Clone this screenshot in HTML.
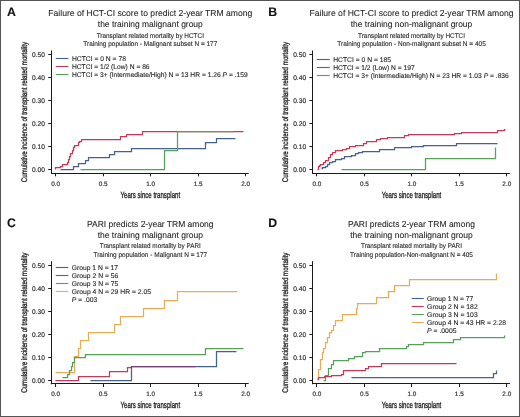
<!DOCTYPE html>
<html><head><meta charset="utf-8"><style>
html,body{margin:0;padding:0;background:#fff;}
body{width:520px;height:417px;overflow:hidden;font-family:"Liberation Sans", sans-serif;}
svg{display:block;filter:blur(0.3px);} text{text-rendering:geometricPrecision;}
</style></head><body>
<svg width="520" height="417" viewBox="0 0 520 417" font-family='"Liberation Sans", sans-serif'>
<rect x="0" y="0" width="520" height="417" fill="#fff"/>
<text x="7.00" y="15.90" font-size="12.3" font-weight="bold" fill="#111" stroke="#111" stroke-width="0.1">A</text>
<text x="150.30" y="16.20" font-size="8.7" text-anchor="middle" textLength="204" lengthAdjust="spacingAndGlyphs" fill="#1f1f1f" stroke="#1f1f1f" stroke-width="0.08">Failure of HCT-CI score to predict 2-year TRM among</text>
<text x="150.30" y="26.80" font-size="8.7" text-anchor="middle" textLength="105" lengthAdjust="spacingAndGlyphs" fill="#1f1f1f" stroke="#1f1f1f" stroke-width="0.08">the training malignant group</text>
<text x="150.30" y="37.70" font-size="6.8" text-anchor="middle" textLength="107.3" lengthAdjust="spacingAndGlyphs" fill="#262626" stroke="#262626" stroke-width="0.1">Transplant related mortality by HCTCI</text>
<text x="150.30" y="45.80" font-size="6.8" text-anchor="middle" textLength="133.9" lengthAdjust="spacingAndGlyphs" fill="#262626" stroke="#262626" stroke-width="0.1">Training population - Malignant subset N = 177</text>
<line x1="51.50" y1="50.50" x2="51.50" y2="173.60" stroke="#1a1a1a" stroke-width="1"/>
<line x1="50.90" y1="173.50" x2="248.70" y2="173.50" stroke="#1a1a1a" stroke-width="1"/>
<line x1="48.20" y1="169.50" x2="51.40" y2="169.50" stroke="#1a1a1a" stroke-width="1"/>
<text x="44.90" y="171.80" font-size="6.7" text-anchor="end" textLength="12.9" lengthAdjust="spacingAndGlyphs" fill="#2e2e2e" stroke="#2e2e2e" stroke-width="0.18">0.00</text>
<line x1="48.20" y1="146.50" x2="51.40" y2="146.50" stroke="#1a1a1a" stroke-width="1"/>
<text x="44.90" y="148.84" font-size="6.7" text-anchor="end" textLength="12.9" lengthAdjust="spacingAndGlyphs" fill="#2e2e2e" stroke="#2e2e2e" stroke-width="0.18">0.10</text>
<line x1="48.20" y1="123.50" x2="51.40" y2="123.50" stroke="#1a1a1a" stroke-width="1"/>
<text x="44.90" y="125.88" font-size="6.7" text-anchor="end" textLength="12.9" lengthAdjust="spacingAndGlyphs" fill="#2e2e2e" stroke="#2e2e2e" stroke-width="0.18">0.20</text>
<line x1="48.20" y1="100.50" x2="51.40" y2="100.50" stroke="#1a1a1a" stroke-width="1"/>
<text x="44.90" y="102.92" font-size="6.7" text-anchor="end" textLength="12.9" lengthAdjust="spacingAndGlyphs" fill="#2e2e2e" stroke="#2e2e2e" stroke-width="0.18">0.30</text>
<line x1="48.20" y1="77.50" x2="51.40" y2="77.50" stroke="#1a1a1a" stroke-width="1"/>
<text x="44.90" y="79.96" font-size="6.7" text-anchor="end" textLength="12.9" lengthAdjust="spacingAndGlyphs" fill="#2e2e2e" stroke="#2e2e2e" stroke-width="0.18">0.40</text>
<line x1="48.20" y1="54.50" x2="51.40" y2="54.50" stroke="#1a1a1a" stroke-width="1"/>
<text x="44.90" y="57.00" font-size="6.7" text-anchor="end" textLength="12.9" lengthAdjust="spacingAndGlyphs" fill="#2e2e2e" stroke="#2e2e2e" stroke-width="0.18">0.50</text>
<line x1="55.50" y1="173.10" x2="55.50" y2="176.30" stroke="#1a1a1a" stroke-width="1"/>
<text x="55.70" y="185.60" font-size="6.3" text-anchor="middle" textLength="8.9" lengthAdjust="spacingAndGlyphs" fill="#333" stroke="#333" stroke-width="0.18">0.0</text>
<line x1="103.50" y1="173.10" x2="103.50" y2="176.30" stroke="#1a1a1a" stroke-width="1"/>
<text x="103.18" y="185.60" font-size="6.3" text-anchor="middle" textLength="8.9" lengthAdjust="spacingAndGlyphs" fill="#333" stroke="#333" stroke-width="0.18">0.5</text>
<line x1="150.50" y1="173.10" x2="150.50" y2="176.30" stroke="#1a1a1a" stroke-width="1"/>
<text x="150.65" y="185.60" font-size="6.3" text-anchor="middle" textLength="8.9" lengthAdjust="spacingAndGlyphs" fill="#333" stroke="#333" stroke-width="0.18">1.0</text>
<line x1="198.50" y1="173.10" x2="198.50" y2="176.30" stroke="#1a1a1a" stroke-width="1"/>
<text x="198.12" y="185.60" font-size="6.3" text-anchor="middle" textLength="8.9" lengthAdjust="spacingAndGlyphs" fill="#333" stroke="#333" stroke-width="0.18">1.5</text>
<line x1="245.50" y1="173.10" x2="245.50" y2="176.30" stroke="#1a1a1a" stroke-width="1"/>
<text x="245.60" y="185.60" font-size="6.3" text-anchor="middle" textLength="8.9" lengthAdjust="spacingAndGlyphs" fill="#333" stroke="#333" stroke-width="0.18">2.0</text>
<text x="150.30" y="197.50" font-size="9.0" text-anchor="middle" textLength="59.6" lengthAdjust="spacingAndGlyphs" fill="#1a1a1a" stroke="#1a1a1a" stroke-width="0.3">Years since transplant</text>
<text x="0" y="0" font-size="8.2" text-anchor="middle" textLength="140.3" lengthAdjust="spacingAndGlyphs" fill="#1a1a1a" stroke="#1a1a1a" stroke-width="0.3" transform="translate(26.50,112.00) rotate(-90)">Cumulative incidence of transplant related mortality</text>
<line x1="55.80" y1="58.50" x2="68.40" y2="58.50" stroke="#46618a" stroke-width="1.1"/>
<text x="71.90" y="60.90" font-size="6.75" textLength="54.0" lengthAdjust="spacingAndGlyphs" fill="#222" stroke="#222" stroke-width="0.1">HCTCI = 0 N = 78</text>
<line x1="55.80" y1="66.50" x2="68.40" y2="66.50" stroke="#c23a5a" stroke-width="1.1"/>
<text x="71.90" y="69.00" font-size="6.75" textLength="77.7" lengthAdjust="spacingAndGlyphs" fill="#222" stroke="#222" stroke-width="0.1">HCTCI = 1/2 (Low) N = 86</text>
<line x1="55.80" y1="74.50" x2="68.40" y2="74.50" stroke="#58a05a" stroke-width="1.1"/>
<text x="71.90" y="77.10" font-size="6.75" textLength="175.8" lengthAdjust="spacingAndGlyphs" fill="#222" stroke="#222" stroke-width="0.1">HCTCI = 3+ (Intermediate/High) N = 13 HR = 1.26 <tspan font-style="italic">P</tspan> = .159</text>
<text x="268.20" y="15.90" font-size="12.3" font-weight="bold" fill="#111" stroke="#111" stroke-width="0.1">B</text>
<text x="411.50" y="16.20" font-size="8.7" text-anchor="middle" textLength="204" lengthAdjust="spacingAndGlyphs" fill="#1f1f1f" stroke="#1f1f1f" stroke-width="0.08">Failure of HCT-CI score to predict 2-year TRM among</text>
<text x="411.50" y="26.80" font-size="8.7" text-anchor="middle" textLength="121.5" lengthAdjust="spacingAndGlyphs" fill="#1f1f1f" stroke="#1f1f1f" stroke-width="0.08">the training non-malignant group</text>
<text x="411.50" y="37.70" font-size="6.8" text-anchor="middle" textLength="106.9" lengthAdjust="spacingAndGlyphs" fill="#262626" stroke="#262626" stroke-width="0.1">Transplant related mortality by HCTCI</text>
<text x="411.50" y="45.80" font-size="6.8" text-anchor="middle" textLength="148.5" lengthAdjust="spacingAndGlyphs" fill="#262626" stroke="#262626" stroke-width="0.1">Training population - Non-malignant subset N = 405</text>
<line x1="312.50" y1="50.50" x2="312.50" y2="173.60" stroke="#1a1a1a" stroke-width="1"/>
<line x1="312.10" y1="173.50" x2="509.90" y2="173.50" stroke="#1a1a1a" stroke-width="1"/>
<line x1="309.40" y1="169.50" x2="312.60" y2="169.50" stroke="#1a1a1a" stroke-width="1"/>
<text x="306.10" y="171.80" font-size="6.7" text-anchor="end" textLength="12.9" lengthAdjust="spacingAndGlyphs" fill="#2e2e2e" stroke="#2e2e2e" stroke-width="0.18">0.00</text>
<line x1="309.40" y1="146.50" x2="312.60" y2="146.50" stroke="#1a1a1a" stroke-width="1"/>
<text x="306.10" y="148.84" font-size="6.7" text-anchor="end" textLength="12.9" lengthAdjust="spacingAndGlyphs" fill="#2e2e2e" stroke="#2e2e2e" stroke-width="0.18">0.10</text>
<line x1="309.40" y1="123.50" x2="312.60" y2="123.50" stroke="#1a1a1a" stroke-width="1"/>
<text x="306.10" y="125.88" font-size="6.7" text-anchor="end" textLength="12.9" lengthAdjust="spacingAndGlyphs" fill="#2e2e2e" stroke="#2e2e2e" stroke-width="0.18">0.20</text>
<line x1="309.40" y1="100.50" x2="312.60" y2="100.50" stroke="#1a1a1a" stroke-width="1"/>
<text x="306.10" y="102.92" font-size="6.7" text-anchor="end" textLength="12.9" lengthAdjust="spacingAndGlyphs" fill="#2e2e2e" stroke="#2e2e2e" stroke-width="0.18">0.30</text>
<line x1="309.40" y1="77.50" x2="312.60" y2="77.50" stroke="#1a1a1a" stroke-width="1"/>
<text x="306.10" y="79.96" font-size="6.7" text-anchor="end" textLength="12.9" lengthAdjust="spacingAndGlyphs" fill="#2e2e2e" stroke="#2e2e2e" stroke-width="0.18">0.40</text>
<line x1="309.40" y1="54.50" x2="312.60" y2="54.50" stroke="#1a1a1a" stroke-width="1"/>
<text x="306.10" y="57.00" font-size="6.7" text-anchor="end" textLength="12.9" lengthAdjust="spacingAndGlyphs" fill="#2e2e2e" stroke="#2e2e2e" stroke-width="0.18">0.50</text>
<line x1="316.50" y1="173.10" x2="316.50" y2="176.30" stroke="#1a1a1a" stroke-width="1"/>
<text x="316.90" y="185.60" font-size="6.3" text-anchor="middle" textLength="8.9" lengthAdjust="spacingAndGlyphs" fill="#333" stroke="#333" stroke-width="0.18">0.0</text>
<line x1="364.50" y1="173.10" x2="364.50" y2="176.30" stroke="#1a1a1a" stroke-width="1"/>
<text x="364.38" y="185.60" font-size="6.3" text-anchor="middle" textLength="8.9" lengthAdjust="spacingAndGlyphs" fill="#333" stroke="#333" stroke-width="0.18">0.5</text>
<line x1="411.50" y1="173.10" x2="411.50" y2="176.30" stroke="#1a1a1a" stroke-width="1"/>
<text x="411.85" y="185.60" font-size="6.3" text-anchor="middle" textLength="8.9" lengthAdjust="spacingAndGlyphs" fill="#333" stroke="#333" stroke-width="0.18">1.0</text>
<line x1="459.50" y1="173.10" x2="459.50" y2="176.30" stroke="#1a1a1a" stroke-width="1"/>
<text x="459.32" y="185.60" font-size="6.3" text-anchor="middle" textLength="8.9" lengthAdjust="spacingAndGlyphs" fill="#333" stroke="#333" stroke-width="0.18">1.5</text>
<line x1="506.50" y1="173.10" x2="506.50" y2="176.30" stroke="#1a1a1a" stroke-width="1"/>
<text x="506.80" y="185.60" font-size="6.3" text-anchor="middle" textLength="8.9" lengthAdjust="spacingAndGlyphs" fill="#333" stroke="#333" stroke-width="0.18">2.0</text>
<text x="411.50" y="197.50" font-size="9.0" text-anchor="middle" textLength="59.6" lengthAdjust="spacingAndGlyphs" fill="#1a1a1a" stroke="#1a1a1a" stroke-width="0.3">Years since transplant</text>
<text x="0" y="0" font-size="8.2" text-anchor="middle" textLength="140.3" lengthAdjust="spacingAndGlyphs" fill="#1a1a1a" stroke="#1a1a1a" stroke-width="0.3" transform="translate(287.70,112.00) rotate(-90)">Cumulative incidence of transplant related mortality</text>
<line x1="316.80" y1="59.50" x2="329.80" y2="59.50" stroke="#46618a" stroke-width="1.1"/>
<text x="333.20" y="61.50" font-size="6.75" textLength="57.8" lengthAdjust="spacingAndGlyphs" fill="#222" stroke="#222" stroke-width="0.1">HCTCI = 0 N = 185</text>
<line x1="316.80" y1="67.50" x2="329.80" y2="67.50" stroke="#c23a5a" stroke-width="1.1"/>
<text x="333.20" y="69.65" font-size="6.75" textLength="81.5" lengthAdjust="spacingAndGlyphs" fill="#222" stroke="#222" stroke-width="0.1">HCTCI = 1/2 (Low) N = 197</text>
<line x1="316.80" y1="75.50" x2="329.80" y2="75.50" stroke="#58a05a" stroke-width="1.1"/>
<text x="333.20" y="77.80" font-size="6.75" textLength="175.6" lengthAdjust="spacingAndGlyphs" fill="#222" stroke="#222" stroke-width="0.1">HCTCI = 3+ (Intermediate/High) N = 23 HR = 1.03 <tspan font-style="italic">P</tspan> = .836</text>
<text x="7.00" y="226.60" font-size="12.3" font-weight="bold" fill="#111" stroke="#111" stroke-width="0.1">C</text>
<text x="150.30" y="226.90" font-size="8.7" text-anchor="middle" textLength="126.5" lengthAdjust="spacingAndGlyphs" fill="#1f1f1f" stroke="#1f1f1f" stroke-width="0.08">PARI predicts 2-year TRM among</text>
<text x="150.30" y="237.50" font-size="8.7" text-anchor="middle" textLength="105.3" lengthAdjust="spacingAndGlyphs" fill="#1f1f1f" stroke="#1f1f1f" stroke-width="0.08">the training malignant group</text>
<text x="150.30" y="248.40" font-size="6.8" text-anchor="middle" textLength="101" lengthAdjust="spacingAndGlyphs" fill="#262626" stroke="#262626" stroke-width="0.1">Transplant related mortality by PARI</text>
<text x="150.30" y="256.50" font-size="6.8" text-anchor="middle" textLength="113.7" lengthAdjust="spacingAndGlyphs" fill="#262626" stroke="#262626" stroke-width="0.1">Training population - Malignant N = 177</text>
<line x1="51.50" y1="261.20" x2="51.50" y2="384.30" stroke="#1a1a1a" stroke-width="1"/>
<line x1="50.90" y1="383.50" x2="248.70" y2="383.50" stroke="#1a1a1a" stroke-width="1"/>
<line x1="48.20" y1="380.50" x2="51.40" y2="380.50" stroke="#1a1a1a" stroke-width="1"/>
<text x="44.90" y="382.50" font-size="6.7" text-anchor="end" textLength="12.9" lengthAdjust="spacingAndGlyphs" fill="#2e2e2e" stroke="#2e2e2e" stroke-width="0.18">0.00</text>
<line x1="48.20" y1="357.50" x2="51.40" y2="357.50" stroke="#1a1a1a" stroke-width="1"/>
<text x="44.90" y="359.54" font-size="6.7" text-anchor="end" textLength="12.9" lengthAdjust="spacingAndGlyphs" fill="#2e2e2e" stroke="#2e2e2e" stroke-width="0.18">0.10</text>
<line x1="48.20" y1="334.50" x2="51.40" y2="334.50" stroke="#1a1a1a" stroke-width="1"/>
<text x="44.90" y="336.58" font-size="6.7" text-anchor="end" textLength="12.9" lengthAdjust="spacingAndGlyphs" fill="#2e2e2e" stroke="#2e2e2e" stroke-width="0.18">0.20</text>
<line x1="48.20" y1="311.50" x2="51.40" y2="311.50" stroke="#1a1a1a" stroke-width="1"/>
<text x="44.90" y="313.62" font-size="6.7" text-anchor="end" textLength="12.9" lengthAdjust="spacingAndGlyphs" fill="#2e2e2e" stroke="#2e2e2e" stroke-width="0.18">0.30</text>
<line x1="48.20" y1="288.50" x2="51.40" y2="288.50" stroke="#1a1a1a" stroke-width="1"/>
<text x="44.90" y="290.66" font-size="6.7" text-anchor="end" textLength="12.9" lengthAdjust="spacingAndGlyphs" fill="#2e2e2e" stroke="#2e2e2e" stroke-width="0.18">0.40</text>
<line x1="48.20" y1="265.50" x2="51.40" y2="265.50" stroke="#1a1a1a" stroke-width="1"/>
<text x="44.90" y="267.70" font-size="6.7" text-anchor="end" textLength="12.9" lengthAdjust="spacingAndGlyphs" fill="#2e2e2e" stroke="#2e2e2e" stroke-width="0.18">0.50</text>
<line x1="55.50" y1="383.80" x2="55.50" y2="387.00" stroke="#1a1a1a" stroke-width="1"/>
<text x="55.70" y="396.30" font-size="6.3" text-anchor="middle" textLength="8.9" lengthAdjust="spacingAndGlyphs" fill="#333" stroke="#333" stroke-width="0.18">0.0</text>
<line x1="103.50" y1="383.80" x2="103.50" y2="387.00" stroke="#1a1a1a" stroke-width="1"/>
<text x="103.18" y="396.30" font-size="6.3" text-anchor="middle" textLength="8.9" lengthAdjust="spacingAndGlyphs" fill="#333" stroke="#333" stroke-width="0.18">0.5</text>
<line x1="150.50" y1="383.80" x2="150.50" y2="387.00" stroke="#1a1a1a" stroke-width="1"/>
<text x="150.65" y="396.30" font-size="6.3" text-anchor="middle" textLength="8.9" lengthAdjust="spacingAndGlyphs" fill="#333" stroke="#333" stroke-width="0.18">1.0</text>
<line x1="198.50" y1="383.80" x2="198.50" y2="387.00" stroke="#1a1a1a" stroke-width="1"/>
<text x="198.12" y="396.30" font-size="6.3" text-anchor="middle" textLength="8.9" lengthAdjust="spacingAndGlyphs" fill="#333" stroke="#333" stroke-width="0.18">1.5</text>
<line x1="245.50" y1="383.80" x2="245.50" y2="387.00" stroke="#1a1a1a" stroke-width="1"/>
<text x="245.60" y="396.30" font-size="6.3" text-anchor="middle" textLength="8.9" lengthAdjust="spacingAndGlyphs" fill="#333" stroke="#333" stroke-width="0.18">2.0</text>
<text x="150.30" y="408.20" font-size="9.0" text-anchor="middle" textLength="59.6" lengthAdjust="spacingAndGlyphs" fill="#1a1a1a" stroke="#1a1a1a" stroke-width="0.3">Years since transplant</text>
<text x="0" y="0" font-size="8.2" text-anchor="middle" textLength="140.3" lengthAdjust="spacingAndGlyphs" fill="#1a1a1a" stroke="#1a1a1a" stroke-width="0.3" transform="translate(26.50,322.70) rotate(-90)">Cumulative incidence of transplant related mortality</text>
<line x1="55.80" y1="267.50" x2="68.30" y2="267.50" stroke="#46618a" stroke-width="1.1"/>
<text x="71.80" y="269.50" font-size="6.75" textLength="46.2" lengthAdjust="spacingAndGlyphs" fill="#222" stroke="#222" stroke-width="0.1">Group 1 N = 17</text>
<line x1="55.80" y1="275.50" x2="68.30" y2="275.50" stroke="#c23a5a" stroke-width="1.1"/>
<text x="71.80" y="277.52" font-size="6.75" textLength="46.5" lengthAdjust="spacingAndGlyphs" fill="#222" stroke="#222" stroke-width="0.1">Group 2 N = 56</text>
<line x1="55.80" y1="283.50" x2="68.30" y2="283.50" stroke="#58a05a" stroke-width="1.1"/>
<text x="71.80" y="285.54" font-size="6.75" textLength="46.5" lengthAdjust="spacingAndGlyphs" fill="#222" stroke="#222" stroke-width="0.1">Group 3 N = 75</text>
<line x1="55.80" y1="291.50" x2="68.30" y2="291.50" stroke="#e4ad5a" stroke-width="1.1"/>
<text x="71.80" y="293.56" font-size="6.75" textLength="79.2" lengthAdjust="spacingAndGlyphs" fill="#222" stroke="#222" stroke-width="0.1">Group 4 N = 29 HR = 2.05</text>
<text x="71.80" y="301.58" font-size="6.75" textLength="25.4" lengthAdjust="spacingAndGlyphs" fill="#222" stroke="#222" stroke-width="0.1"><tspan font-style="italic">P</tspan> = .003</text>
<text x="268.20" y="226.60" font-size="12.3" font-weight="bold" fill="#111" stroke="#111" stroke-width="0.1">D</text>
<text x="411.50" y="226.90" font-size="8.7" text-anchor="middle" textLength="126.8" lengthAdjust="spacingAndGlyphs" fill="#1f1f1f" stroke="#1f1f1f" stroke-width="0.08">PARI predicts 2-year TRM among</text>
<text x="411.50" y="237.50" font-size="8.7" text-anchor="middle" textLength="122.5" lengthAdjust="spacingAndGlyphs" fill="#1f1f1f" stroke="#1f1f1f" stroke-width="0.08">the training non-malignant group</text>
<text x="411.50" y="248.40" font-size="6.8" text-anchor="middle" textLength="100.9" lengthAdjust="spacingAndGlyphs" fill="#262626" stroke="#262626" stroke-width="0.1">Transplant related mortality by PARI</text>
<text x="411.50" y="256.50" font-size="6.8" text-anchor="middle" textLength="122.9" lengthAdjust="spacingAndGlyphs" fill="#262626" stroke="#262626" stroke-width="0.1">Training population-Non-malignant N = 405</text>
<line x1="312.50" y1="261.20" x2="312.50" y2="384.30" stroke="#1a1a1a" stroke-width="1"/>
<line x1="312.10" y1="383.50" x2="509.90" y2="383.50" stroke="#1a1a1a" stroke-width="1"/>
<line x1="309.40" y1="380.50" x2="312.60" y2="380.50" stroke="#1a1a1a" stroke-width="1"/>
<text x="306.10" y="382.50" font-size="6.7" text-anchor="end" textLength="12.9" lengthAdjust="spacingAndGlyphs" fill="#2e2e2e" stroke="#2e2e2e" stroke-width="0.18">0.00</text>
<line x1="309.40" y1="357.50" x2="312.60" y2="357.50" stroke="#1a1a1a" stroke-width="1"/>
<text x="306.10" y="359.54" font-size="6.7" text-anchor="end" textLength="12.9" lengthAdjust="spacingAndGlyphs" fill="#2e2e2e" stroke="#2e2e2e" stroke-width="0.18">0.10</text>
<line x1="309.40" y1="334.50" x2="312.60" y2="334.50" stroke="#1a1a1a" stroke-width="1"/>
<text x="306.10" y="336.58" font-size="6.7" text-anchor="end" textLength="12.9" lengthAdjust="spacingAndGlyphs" fill="#2e2e2e" stroke="#2e2e2e" stroke-width="0.18">0.20</text>
<line x1="309.40" y1="311.50" x2="312.60" y2="311.50" stroke="#1a1a1a" stroke-width="1"/>
<text x="306.10" y="313.62" font-size="6.7" text-anchor="end" textLength="12.9" lengthAdjust="spacingAndGlyphs" fill="#2e2e2e" stroke="#2e2e2e" stroke-width="0.18">0.30</text>
<line x1="309.40" y1="288.50" x2="312.60" y2="288.50" stroke="#1a1a1a" stroke-width="1"/>
<text x="306.10" y="290.66" font-size="6.7" text-anchor="end" textLength="12.9" lengthAdjust="spacingAndGlyphs" fill="#2e2e2e" stroke="#2e2e2e" stroke-width="0.18">0.40</text>
<line x1="309.40" y1="265.50" x2="312.60" y2="265.50" stroke="#1a1a1a" stroke-width="1"/>
<text x="306.10" y="267.70" font-size="6.7" text-anchor="end" textLength="12.9" lengthAdjust="spacingAndGlyphs" fill="#2e2e2e" stroke="#2e2e2e" stroke-width="0.18">0.50</text>
<line x1="316.50" y1="383.80" x2="316.50" y2="387.00" stroke="#1a1a1a" stroke-width="1"/>
<text x="316.90" y="396.30" font-size="6.3" text-anchor="middle" textLength="8.9" lengthAdjust="spacingAndGlyphs" fill="#333" stroke="#333" stroke-width="0.18">0.0</text>
<line x1="364.50" y1="383.80" x2="364.50" y2="387.00" stroke="#1a1a1a" stroke-width="1"/>
<text x="364.38" y="396.30" font-size="6.3" text-anchor="middle" textLength="8.9" lengthAdjust="spacingAndGlyphs" fill="#333" stroke="#333" stroke-width="0.18">0.5</text>
<line x1="411.50" y1="383.80" x2="411.50" y2="387.00" stroke="#1a1a1a" stroke-width="1"/>
<text x="411.85" y="396.30" font-size="6.3" text-anchor="middle" textLength="8.9" lengthAdjust="spacingAndGlyphs" fill="#333" stroke="#333" stroke-width="0.18">1.0</text>
<line x1="459.50" y1="383.80" x2="459.50" y2="387.00" stroke="#1a1a1a" stroke-width="1"/>
<text x="459.32" y="396.30" font-size="6.3" text-anchor="middle" textLength="8.9" lengthAdjust="spacingAndGlyphs" fill="#333" stroke="#333" stroke-width="0.18">1.5</text>
<line x1="506.50" y1="383.80" x2="506.50" y2="387.00" stroke="#1a1a1a" stroke-width="1"/>
<text x="506.80" y="396.30" font-size="6.3" text-anchor="middle" textLength="8.9" lengthAdjust="spacingAndGlyphs" fill="#333" stroke="#333" stroke-width="0.18">2.0</text>
<text x="411.50" y="408.20" font-size="9.0" text-anchor="middle" textLength="59.6" lengthAdjust="spacingAndGlyphs" fill="#1a1a1a" stroke="#1a1a1a" stroke-width="0.3">Years since transplant</text>
<text x="0" y="0" font-size="8.2" text-anchor="middle" textLength="140.3" lengthAdjust="spacingAndGlyphs" fill="#1a1a1a" stroke="#1a1a1a" stroke-width="0.3" transform="translate(287.70,322.70) rotate(-90)">Cumulative incidence of transplant related mortality</text>
<line x1="411.70" y1="298.50" x2="423.80" y2="298.50" stroke="#46618a" stroke-width="1.1"/>
<text x="427.10" y="301.00" font-size="6.75" textLength="46.2" lengthAdjust="spacingAndGlyphs" fill="#222" stroke="#222" stroke-width="0.1">Group 1 N = 77</text>
<line x1="411.70" y1="306.50" x2="423.80" y2="306.50" stroke="#c23a5a" stroke-width="1.1"/>
<text x="427.10" y="309.03" font-size="6.75" textLength="50.6" lengthAdjust="spacingAndGlyphs" fill="#222" stroke="#222" stroke-width="0.1">Group 2 N = 182</text>
<line x1="411.70" y1="314.50" x2="423.80" y2="314.50" stroke="#58a05a" stroke-width="1.1"/>
<text x="427.10" y="317.06" font-size="6.75" textLength="50.6" lengthAdjust="spacingAndGlyphs" fill="#222" stroke="#222" stroke-width="0.1">Group 3 N = 103</text>
<line x1="411.70" y1="322.50" x2="423.80" y2="322.50" stroke="#e4ad5a" stroke-width="1.1"/>
<text x="427.10" y="325.09" font-size="6.75" textLength="79" lengthAdjust="spacingAndGlyphs" fill="#222" stroke="#222" stroke-width="0.1">Group 4 N = 43 HR = 2.28</text>
<text x="427.10" y="333.12" font-size="6.75" textLength="29.4" lengthAdjust="spacingAndGlyphs" fill="#222" stroke="#222" stroke-width="0.1"><tspan font-style="italic">P</tspan> = .0005</text>
<path d="M55.50,169.50H55.50V167.50H60.50V166.50H62.50V164.50H67.50V162.50H68.50V159.50H69.50V156.50H70.50V153.50H72.50V150.50H73.50V147.50H74.50V145.50H78.50V142.50H79.50V141.50H81.50V139.50H120.50V136.50H126.50V134.50H142.50V131.50H243.50" fill="none" stroke="#c23a5a" stroke-width="1.25" stroke-linejoin="miter"/>
<path d="M60.50,169.50H73.50V166.50H78.50V163.50H85.50V160.50H88.50V157.50H109.50V154.50H114.50V151.50H131.50V148.50H205.50V142.50H216.50V138.50H235.50" fill="none" stroke="#46618a" stroke-width="1.25" stroke-linejoin="miter"/>
<path d="M80.50,169.50H164.50V150.50H177.50V131.50H233.50" fill="none" stroke="#58a05a" stroke-width="1.25" stroke-linejoin="miter"/>
<path d="M317.50,169.50H318.50V166.50H319.50V165.50H320.50V164.50H323.50V162.50H325.50V160.50H328.50V157.50H330.50V154.50H332.50V152.50H335.50V150.50H342.50V149.50H346.50V148.50H349.50V146.50H355.50V145.50H363.50V143.50H366.50V141.50H376.50V139.50H380.50V138.50H387.50V137.50H404.50V135.50H408.50V134.50H454.50V133.50H461.50V132.50H497.50V130.50H504.50V129.50H505.50" fill="none" stroke="#c23a5a" stroke-width="1.25" stroke-linejoin="miter"/>
<path d="M321.50,168.50H322.50V167.50H325.50V166.50H327.50V164.50H329.50V162.50H332.50V161.50H335.50V159.50H341.50V158.50H344.50V156.50H348.50V156.50H351.50V155.50H355.50V153.50H358.50V152.50H362.50V151.50H379.50V149.50H382.50V149.50H394.50V147.50H411.50V146.50H423.50V145.50H456.50V143.50H497.50V143.50H497.50" fill="none" stroke="#46618a" stroke-width="1.25" stroke-linejoin="miter"/>
<path d="M341.50,169.50H425.50V158.50H495.50V147.50H495.50" fill="none" stroke="#58a05a" stroke-width="1.25" stroke-linejoin="miter"/>
<path d="M55.50,372.50H74.50V356.50H78.50V348.50H80.50V340.50H88.50V332.50H114.50V324.50H120.50V316.50H143.50V308.50H164.50V300.50H177.50V291.50H237.50" fill="none" stroke="#e4ad5a" stroke-width="1.25" stroke-linejoin="miter"/>
<path d="M62.50,377.50H67.50V374.50H69.50V370.50H71.50V366.50H72.50V362.50H74.50V357.50H85.50V354.50H205.50V348.50H243.50" fill="none" stroke="#58a05a" stroke-width="1.25" stroke-linejoin="miter"/>
<path d="M55.50,380.50H78.50V376.50H109.50V371.50H127.50V367.50H131.50V366.50H195.50" fill="none" stroke="#c23a5a" stroke-width="1.25" stroke-linejoin="miter"/>
<path d="M90.50,380.50H131.50V366.50H216.50V351.50H236.50" fill="none" stroke="#46618a" stroke-width="1.25" stroke-linejoin="miter"/>
<line x1="131.00" y1="366.50" x2="195.00" y2="366.50" stroke="#7a3f78" stroke-width="1.1"/>
<path d="M317.50,378.50H318.50V369.50H320.50V359.50H322.50V352.50H323.50V348.50H325.50V342.50H327.50V337.50H329.50V332.50H331.50V330.50H333.50V325.50H335.50V320.50H342.50V314.50H356.50V308.50H357.50V303.50H376.50V297.50H388.50V291.50H394.50V285.50H409.50V279.50H496.50V273.50H496.50" fill="none" stroke="#e4ad5a" stroke-width="1.25" stroke-linejoin="miter"/>
<path d="M323.50,380.50H325.50V375.50H328.50V368.50H331.50V364.50H333.50V360.50H348.50V358.50H354.50V356.50H362.50V352.50H365.50V351.50H379.50V348.50H406.50V346.50H408.50V344.50H423.50V342.50H453.50V339.50H460.50V337.50H504.50V335.50H504.50" fill="none" stroke="#58a05a" stroke-width="1.25" stroke-linejoin="miter"/>
<path d="M317.50,379.50H318.50V377.50H324.50V376.50H331.50V375.50H341.50V374.50H343.50V370.50H365.50V368.50H368.50V366.50H381.50V363.50H456.50" fill="none" stroke="#c23a5a" stroke-width="1.25" stroke-linejoin="miter"/>
<path d="M351.50,377.50H493.50V373.50H496.50V370.50H496.50" fill="none" stroke="#46618a" stroke-width="1.25" stroke-linejoin="miter"/>
<rect x="0.5" y="0.5" width="519" height="416" fill="none" stroke="#555" stroke-width="1"/>
</svg>
</body></html>
